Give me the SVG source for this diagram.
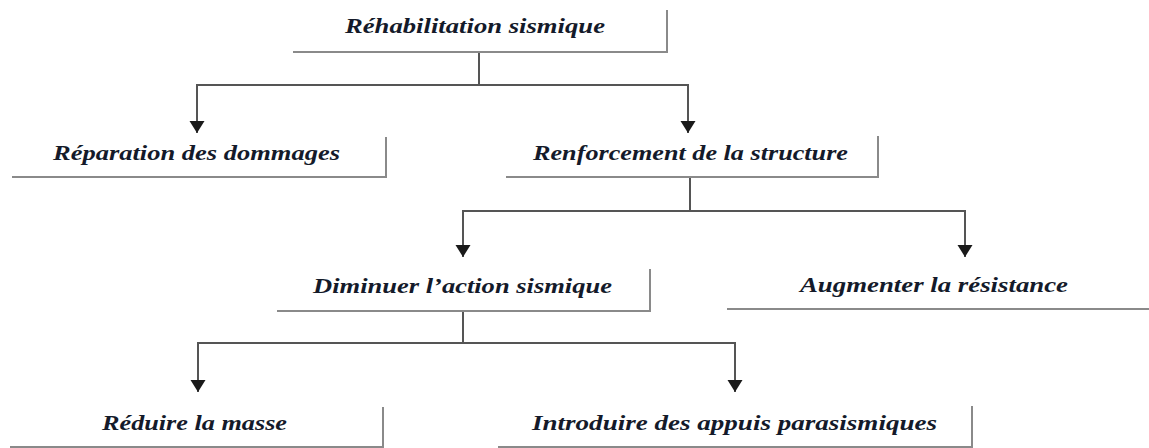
<svg xmlns="http://www.w3.org/2000/svg" width="1149" height="448" viewBox="0 0 1149 448">
  <style>
    .bg { fill: #ffffff; }
    .frame { fill: none; stroke: #8a8a8a; stroke-width: 2; }
    .conn { fill: none; stroke: #555555; stroke-width: 2; }
    .label { font-family: "Liberation Serif", "Times New Roman", serif; font-weight: bold; font-style: italic; font-size: 21px; fill: #141a2a; }
  </style>
  <defs>
    <marker id="arrow" markerUnits="userSpaceOnUse" markerWidth="14" markerHeight="16" refX="12" refY="7.5" orient="auto-start-reverse">
      <path d="M0,0 L12,7.5 L0,15 z" fill="#1a1a1a"/>
    </marker>
  </defs>
  <rect class="bg" x="0" y="0" width="1149" height="448"/>

  <g id="connectors">
    <polyline class="conn" points="479,52 479,85"/>
    <polyline class="conn" points="197,133 197,85 688,85 688,133" marker-start="url(#arrow)" marker-end="url(#arrow)"/>
    <polyline class="conn" points="690,177 690,211"/>
    <polyline class="conn" points="463,257 463,211 965,211 965,257" marker-start="url(#arrow)" marker-end="url(#arrow)"/>
    <polyline class="conn" points="463,311 463,343"/>
    <polyline class="conn" points="198,392 198,343 735,343 735,392" marker-start="url(#arrow)" marker-end="url(#arrow)"/>
  </g>

  <g id="node-rehabilitation">
    <polyline class="frame" points="293,52 667,52 667,10"/>
    <text class="label" x="345" y="33" textLength="260" lengthAdjust="spacingAndGlyphs">Réhabilitation sismique</text>
  </g>

  <g id="node-reparation">
    <polyline class="frame" points="12,177 386,177 386,137"/>
    <text class="label" x="53" y="160" textLength="287" lengthAdjust="spacingAndGlyphs">Réparation des dommages</text>
  </g>

  <g id="node-renforcement">
    <polyline class="frame" points="506,177 878,177 878,136"/>
    <text class="label" x="533" y="160" textLength="315" lengthAdjust="spacingAndGlyphs">Renforcement de la structure</text>
  </g>

  <g id="node-diminuer">
    <polyline class="frame" points="277,311 650,311 650,269"/>
    <text class="label" x="313" y="293" textLength="299" lengthAdjust="spacingAndGlyphs">Diminuer l’action sismique</text>
  </g>

  <g id="node-augmenter">
    <polyline class="frame" points="727,309 1149,309"/>
    <text class="label" x="800" y="292" textLength="268" lengthAdjust="spacingAndGlyphs">Augmenter la résistance</text>
  </g>

  <g id="node-reduire">
    <polyline class="frame" points="10,447 383,447 383,407"/>
    <text class="label" x="102" y="430" textLength="185" lengthAdjust="spacingAndGlyphs">Réduire la masse</text>
  </g>

  <g id="node-introduire">
    <polyline class="frame" points="498,447 972,447 972,406"/>
    <text class="label" x="532" y="430" textLength="405" lengthAdjust="spacingAndGlyphs">Introduire des appuis parasismiques</text>
  </g>
</svg>
